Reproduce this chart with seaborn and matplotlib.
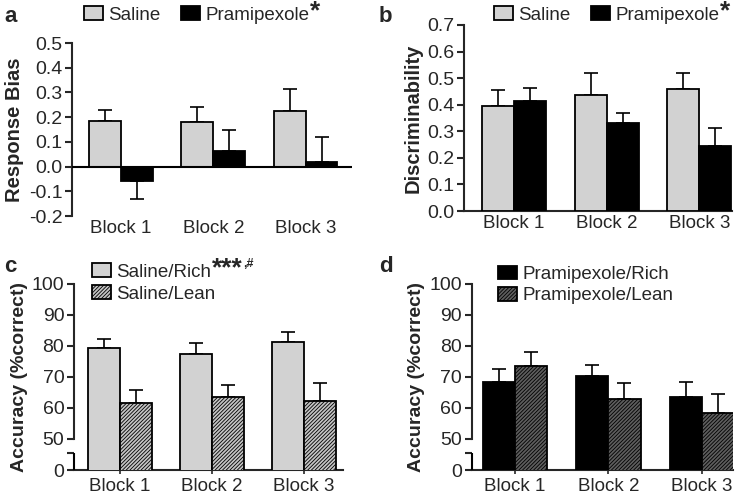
import matplotlib
matplotlib.use("Agg")
import matplotlib.pyplot as plt
import seaborn as sns
import pandas as pd
import numpy as np

sns.set_style("ticks")
plt.rcParams['font.family'] = ['Liberation Sans', 'DejaVu Sans']
plt.rcParams['hatch.linewidth'] = 0.6

blocks = ["Block 1", "Block 2", "Block 3"]

# Panel a: response bias
a_groups = ["Saline", "Pramipexole"]
a_saline = [0.185, 0.181, 0.224]
a_saline_err = [0.043, 0.060, 0.091]
a_pram = [-0.057, 0.064, 0.020]
a_pram_err = [0.076, 0.086, 0.100]

# Panel b: discriminability
b_groups = ["Saline", "Pramipexole"]
b_saline = [0.397, 0.435, 0.459]
b_saline_err = [0.057, 0.084, 0.062]
b_pram = [0.413, 0.331, 0.244]
b_pram_err = [0.051, 0.038, 0.069]

# Panel c: saline accuracy
c_groups = ["Saline/Rich", "Saline/Lean"]
c_rich = [79.4, 77.3, 81.2]
c_rich_err = [2.7, 3.8, 3.4]
c_lean = [61.6, 63.4, 62.1]
c_lean_err = [4.1, 4.0, 5.9]

# Panel d: pramipexole accuracy
d_groups = ["Pramipexole/Rich", "Pramipexole/Lean"]
d_rich = [68.3, 70.3, 63.4]
d_rich_err = [4.2, 3.5, 5.0]
d_lean = [73.6, 62.8, 58.3]
d_lean_err = [4.5, 5.2, 6.1]

acc_ticks = [40, 50, 60, 70, 80, 90, 100]
acc_ticklabels = ["0", "50", "60", "70", "80", "90", "100"]

GRAY = "#d2d2d2"
BLACK = "#000000"

fig = plt.figure(figsize=(7.5, 4.95), dpi=100)

def make_df(groups, v1, v2):
    rows = []
    for b, x in zip(blocks, v1):
        rows.append((b, groups[0], x))
    for b, x in zip(blocks, v2):
        rows.append((b, groups[1], x))
    return pd.DataFrame(rows, columns=["block", "group", "value"])

def panel(rect, groups, v1, e1, v2, e2, colors, hatches, xlim):
    ax = fig.add_axes(rect)
    df = make_df(groups, v1, v2)
    sns.barplot(data=df, x="block", y="value", hue="group", order=blocks,
                hue_order=groups, palette=colors, saturation=1, width=0.69,
                edgecolor="black", linewidth=1.3, errorbar=None, ax=ax,
                legend=False, zorder=3)
    for cont, errs, h in zip(ax.containers, [e1, e2], hatches):
        xs, ys, lo, hi = [], [], [], []
        for bar, e in zip(cont, errs):
            if h:
                bar.set_hatch(h)
            xs.append(bar.get_x() + bar.get_width() / 2)
            hgt = bar.get_height()
            ys.append(hgt)
            if hgt < 0:
                lo.append(e); hi.append(0)
            else:
                lo.append(0); hi.append(e)
        ax.errorbar(xs, ys, yerr=[lo, hi], fmt="none", ecolor="black",
                    elinewidth=1.2, capsize=4.8, capthick=1.2, zorder=2)
    ax.set_xlim(*xlim)
    ax.set_xlabel("")
    for s in ["top", "right"]:
        ax.spines[s].set_visible(False)
    for s in ["left", "bottom"]:
        ax.spines[s].set_linewidth(1.5)
    ax.tick_params(axis="y", direction="out", length=5, width=1.5, labelsize=14, pad=2)
    ax.tick_params(axis="x", labelsize=13.5, pad=3)
    return ax

# ---- a
axa = panel([0.096, 0.5636, 0.373, 0.3494], a_groups, a_saline, a_saline_err,
            a_pram, a_pram_err, [GRAY, BLACK], [None, None], (-0.53, 2.5))
axa.set_ylim(-0.2, 0.5)
yt = [-0.2, -0.1, 0.0, 0.1, 0.2, 0.3, 0.4, 0.5]
axa.set_yticks(yt)
axa.set_yticklabels(["-0.2", "-0.1", "0.0", "0.1", "0.2", "0.3", "0.4", "0.5"])
axa.spines["bottom"].set_visible(False)
axa.axhline(0, color="black", lw=1.5, zorder=4)
axa.tick_params(axis="x", length=0)
axa.set_ylabel("Response Bias", fontsize=14.5, fontweight="bold", labelpad=3)

# ---- b
axb = panel([0.6187, 0.5737, 0.357, 0.3758], b_groups, b_saline, b_saline_err,
            b_pram, b_pram_err, [GRAY, BLACK], [None, None], (-0.54, 2.35))
axb.set_ylim(0, 0.7)
axb.set_yticks([0, 0.1, 0.2, 0.3, 0.4, 0.5, 0.6, 0.7])
axb.set_yticklabels(["0.0", "0.1", "0.2", "0.3", "0.4", "0.5", "0.6", "0.7"])
axb.tick_params(axis="x", length=0)
axb.set_ylabel("Discriminability", fontsize=14.5, fontweight="bold", labelpad=3)

def accuracy_axis(ax):
    ax.set_ylim(40, 100)
    ax.set_yticks(acc_ticks)
    ax.set_yticklabels(acc_ticklabels)
    ax.spines["left"].set_bounds(50, 100)
    ax.plot([0, 0], [40, 45.6], color="black", lw=1.5,
            transform=ax.get_yaxis_transform(), clip_on=False, zorder=5,
            solid_capstyle="butt")
    ax.set_yticks([45.6], minor=True)
    ax.tick_params(axis="y", which="minor", direction="out", length=5, width=1.5)
    ax.tick_params(axis="x", length=3, width=1.2)
    ax.set_ylabel("Accuracy (%correct)", fontsize=14, fontweight="bold", labelpad=3)

# ---- c
axc = panel([0.0987, 0.0505, 0.3583, 0.3758], c_groups, c_rich, c_rich_err,
            c_lean, c_lean_err, [GRAY, "#c4c4c4"], [None, "/////////"], (-0.5, 2.42))
accuracy_axis(axc)

# ---- d
axd = panel([0.629, 0.0505, 0.348, 0.3758], d_groups, d_rich, d_rich_err,
            d_lean, d_lean_err, [BLACK, "#5e5e5e"], [None, "/////////"], (-0.46, 2.33))
accuracy_axis(axd)

# ---- legends
def legend(ax, groups, anchor, ncol, labelspacing=0.2):
    handles = [c[0] for c in ax.containers if hasattr(c, "patches")]
    leg = fig.legend(handles, groups, loc="center left", bbox_to_anchor=anchor,
                     bbox_transform=fig.transFigure, ncol=ncol, frameon=False,
                     fontsize=13.5, handlelength=1.0, handleheight=0.75,
                     handletextpad=0.3, columnspacing=1.1, borderpad=0,
                     borderaxespad=0, labelspacing=labelspacing)
    return leg

leg_a = legend(axa, a_groups, (84 / 750, 1 - 15 / 495), 2)
leg_b = legend(axb, b_groups, (494 / 750, 1 - 15 / 495), 2)
leg_c = legend(axc, c_groups, (92 / 750, 1 - 283 / 495), 1, 0.25)
leg_d = legend(axd, d_groups, (498 / 750, 1 - 285 / 495), 1, 0.2)

fig.canvas.draw()
renderer = fig.canvas.get_renderer()
inv = fig.transFigure.inverted()

def after(textobj, s, size, dy=0.0):
    bb = textobj.get_window_extent(renderer)
    x, y = inv.transform((bb.x1, bb.y1))
    return fig.text(x + 0.001, y + dy, s, fontsize=size, fontweight="bold",
                    ha="left", va="top")

after(leg_a.get_texts()[1], "*", 19, 0.014)
after(leg_b.get_texts()[1], "*", 19, 0.014)
t = after(leg_c.get_texts()[0], "***", 19, 0.014)
fig.canvas.draw()
bb = t.get_window_extent(renderer)
x, y = inv.transform((bb.x1, bb.y1))
fig.text(x, y - 0.002, ",#", fontsize=9, fontweight="bold", ha="left", va="top")

# ---- panel letters
for lab, (x, y) in zip("abcd", [(4, 6), (379, 6), (4, 256), (379, 256)]):
    fig.text(x / 750, 1 - y / 495, lab, fontsize=16, fontweight="bold",
             ha="left", va="top")

fig.savefig("out.png", dpi=100)
